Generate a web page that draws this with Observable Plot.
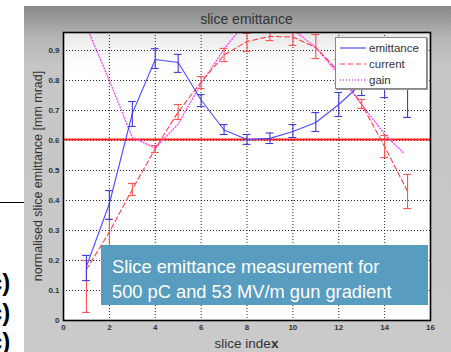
<!DOCTYPE html>
<html><head><meta charset="utf-8">
<script src="https://cdn.jsdelivr.net/npm/d3@7"></script>
<script src="https://cdn.jsdelivr.net/npm/@observablehq/plot@0.6"></script>
<style>
body{margin:0;background:#fff;font-family:"Liberation Sans",Arial,sans-serif;}
#wrap{position:relative;width:451px;height:352px;overflow:hidden;background:#fff;}
#leftbox{position:absolute;left:-2px;top:202px;width:25px;height:160px;border:1px solid #000;background:#fff;}
.cp{position:absolute;left:-11px;font-size:24px;line-height:24px;font-weight:bold;color:#000;font-family:"Liberation Sans",Arial,sans-serif;}
#fig{position:absolute;left:24px;top:6px;width:427px;height:346px;background:linear-gradient(#888 0px,#b4b4b4 30px,#c6c6c6 60px,#cacaca 100%);}
#axbg{position:absolute;left:63px;top:32px;width:367px;height:288px;background:linear-gradient(#e6e6e6 0px,#fafafa 25px,#fff 45px);}
#chart{position:absolute;left:0;top:0;}
#title{position:absolute;left:63px;width:367px;top:11px;text-align:center;font-size:14px;color:#333;}
#xlabel{position:absolute;left:63px;width:367px;top:336px;text-align:center;font-size:13.5px;color:#333;}
#ylabel{position:absolute;left:38px;top:176px;transform:translate(-50%,-50%) rotate(-90deg);white-space:nowrap;font-size:12.5px;color:#333;}
#legend{position:absolute;left:335px;top:37px;width:90px;height:50px;background:#fff;border:1px solid #888;box-shadow:1px 1px 0 #999;}
.li{position:absolute;left:0;height:14px;width:90px;}
.li svg{position:absolute;left:4px;top:2px;}
.li span{position:absolute;left:33px;top:0;font-size:11.5px;color:#333;line-height:14px;}
#note{position:absolute;left:101px;top:245px;width:327px;height:60px;background:#589dbf;color:#fff;font-size:18.3px;line-height:25px;box-sizing:border-box;padding:9px 0 0 11px;}
</style></head><body>
<div id="wrap">
  <div id="leftbox"></div>
  <div class="cp" style="top:271px">c)</div>
  <div class="cp" style="top:301px">c)</div>
  <div class="cp" style="top:330px">c)</div>
  <div id="fig"></div>
  <div id="axbg"></div>
  <div id="chart"></div>
  <div id="title">slice emittance</div>
  <div id="xlabel">slice inde<b>x</b></div>
  <div id="ylabel">normalised slice emittance [mm mrad]</div>
  <div id="legend">
    <div class="li" style="top:3px"><svg width="28" height="10"><line x1="0" y1="5" x2="26" y2="5" stroke="#4d4dff" stroke-width="1.2"/></svg><span>emittance</span></div>
    <div class="li" style="top:19px"><svg width="28" height="10"><line x1="0" y1="5" x2="26" y2="5" stroke="#ff4040" stroke-width="1.2" stroke-dasharray="5,3"/></svg><span>current</span></div>
    <div class="li" style="top:35px"><svg width="28" height="10"><line x1="0" y1="5" x2="26" y2="5" stroke="#ff40ff" stroke-width="1.3" stroke-dasharray="1,2"/></svg><span>gain</span></div>
  </div>
  <div id="note">Slice emittance measurement for<br>500 pC and 53 MV/m gun gradient</div>
</div>
<script>
const slices = [1,2,3,4,5,6,7,8,9,10,11,12,13,14,15];
const emittance = [0.18,0.39,0.69,0.87,0.86,0.735,0.635,0.603,0.607,0.63,0.66,0.72,0.79,0.785,0.775];
const emitLo    = [0.133,0.337,0.647,0.84,0.827,0.713,0.62,0.587,0.59,0.61,0.63,0.68,0.75,0.743,0.677];
const emitHi    = [0.217,0.433,0.73,0.906,0.887,0.753,0.653,0.62,0.625,0.653,0.693,0.76,0.83,0.827,0.873];
const current   = [0.17,0.295,0.437,0.573,0.695,0.795,0.885,0.93,0.947,0.945,0.91,0.83,0.72,0.58,0.43];
const currLo    = [0.027,0.25,0.417,0.56,0.67,0.773,0.863,0.897,0.933,0.917,0.873,0.79,0.707,0.543,0.373];
const currHi    = [0.2,0.337,0.457,0.583,0.72,0.813,0.907,0.957,0.965,0.97,0.953,0.87,0.737,0.617,0.487];
const gainX     = [1,2,3,4,5,6,7,8,9,10,11,12,13,14,14.8];
const gain      = [0.98,0.8,0.61,0.575,0.655,0.79,0.905,1.0,1.03,0.97,0.91,0.82,0.72,0.62,0.56];
const threshold = 0.603;
const xTicks = [0,2,4,6,8,10,12,14,16];
const yTicks = [0,0.1,0.2,0.3,0.4,0.5,0.6,0.7,0.8,0.9];

const emit = slices.map((x,i)=>({x, y:emittance[i], lo:emitLo[i], hi:emitHi[i]}));
const curr = slices.map((x,i)=>({x, y:current[i], lo:currLo[i], hi:currHi[i]}));
const gn = gainX.map((x,i)=>({x, y:gain[i]}));
const cap = 0.17;
const blue = "#4d4dff", blueBar = "#3b3bd9", red = "#ff4040", redBar = "#ff5050", mag = "#ff40ff";

const chart = Plot.plot({
  width: 451, height: 352,
  marginLeft: 63, marginRight: 21, marginTop: 32, marginBottom: 32,
  style: {background: "transparent", fontFamily: "Liberation Sans, Arial, sans-serif"},
  x: {domain: [0,16]},
  y: {domain: [0,0.96]},
  marks: [
    Plot.gridX(xTicks, {stroke: "#000", strokeOpacity: 0.85, strokeDasharray: "1,2"}),
    Plot.gridY(yTicks, {stroke: "#000", strokeOpacity: 0.85, strokeDasharray: "1,2"}),
    Plot.axisX(xTicks, {tickSize: 0, tickPadding: 4, fontSize: 8, fontWeight: "bold", fill: "#333", label: null, tickFormat: d=>String(d)}),
    Plot.axisY(yTicks, {tickSize: 0, tickPadding: 4, fontSize: 8, fontWeight: "bold", fill: "#333", label: null, tickFormat: d=>String(d)}),
    Plot.ruleY([threshold], {stroke: "#ff2020", strokeWidth: 2}),
    Plot.line(gn, {x: "x", y: "y", stroke: mag, strokeWidth: 1.3, strokeDasharray: "1,2", clip: true}),
    Plot.line(curr, {x: "x", y: "y", stroke: red, strokeWidth: 1.1, strokeDasharray: "5,3", clip: true}),
    Plot.ruleX(curr, {x: "x", y1: "lo", y2: "hi", stroke: redBar, strokeWidth: 1.1, clip: true}),
    Plot.ruleY(curr, {y: "lo", x1: d=>d.x-cap, x2: d=>d.x+cap, stroke: redBar, strokeWidth: 1.1, clip: true}),
    Plot.ruleY(curr, {y: "hi", x1: d=>d.x-cap, x2: d=>d.x+cap, stroke: redBar, strokeWidth: 1.1, clip: true}),
    Plot.line(emit, {x: "x", y: "y", stroke: blue, strokeWidth: 1.1, clip: true}),
    Plot.ruleX(emit, {x: "x", y1: "lo", y2: "hi", stroke: blueBar, strokeWidth: 1.1, clip: true}),
    Plot.ruleY(emit, {y: "lo", x1: d=>d.x-cap, x2: d=>d.x+cap, stroke: blueBar, strokeWidth: 1.1, clip: true}),
    Plot.ruleY(emit, {y: "hi", x1: d=>d.x-cap, x2: d=>d.x+cap, stroke: blueBar, strokeWidth: 1.1, clip: true}),
    Plot.frame({stroke: "#000", strokeWidth: 1.6})
  ]
});
document.getElementById("chart").appendChild(chart);
</script>
</body></html>
